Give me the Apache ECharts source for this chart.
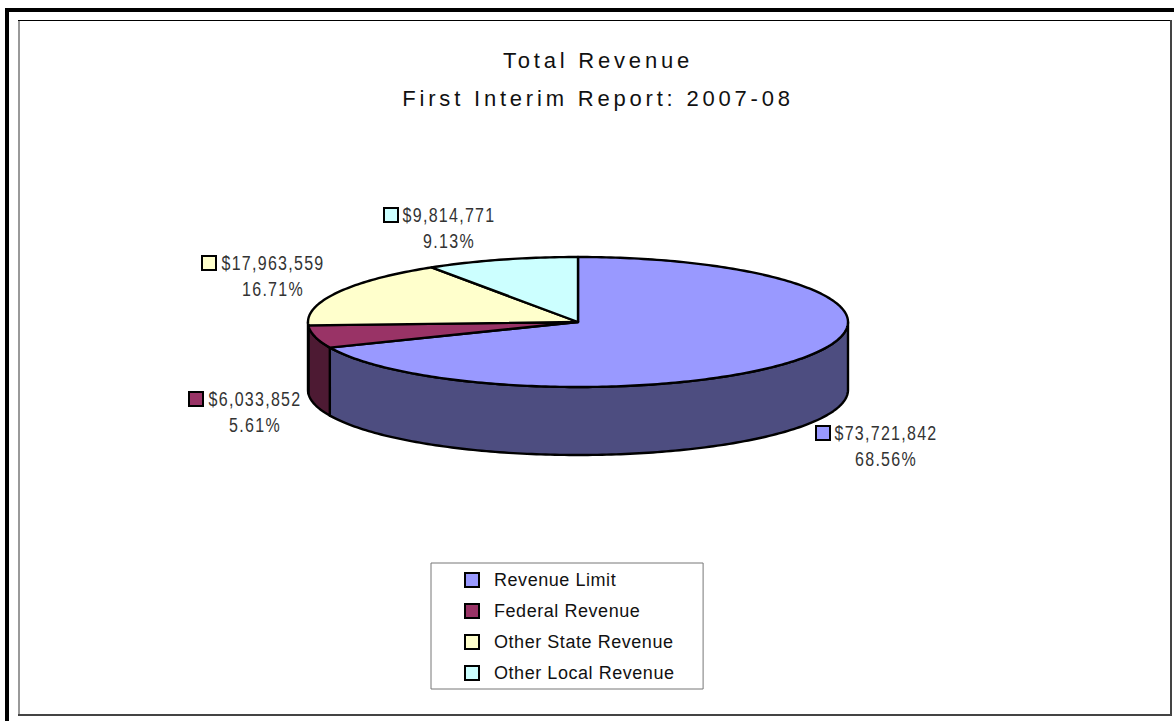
<!DOCTYPE html>
<html>
<head>
<meta charset="utf-8">
<title>Total Revenue</title>
<script src="https://cdn.jsdelivr.net/npm/echarts@6/dist/echarts.min.js"></script>
<style>
  html, body { margin: 0; padding: 0; background: #fff; }
  #main { width: 1174px; height: 721px; }
  /* echarts has no letter spacing option, the svg text takes it from css */
  #main text[style*="22px"] { letter-spacing: 3.8px; }
  #main text[style*="18px"] { letter-spacing: 0.55px; }
  #main text[style*="20px"] { letter-spacing: 1.6px; }
</style>
</head>
<body>
<div id="main"></div>
<script>
const categories = ['Revenue Limit', 'Federal Revenue', 'Other State Revenue', 'Other Local Revenue'];
const revenue = [73721842, 6033852, 17963559, 9814771];
const topColors = ['#9999FF', '#993366', '#FFFFCC', '#CCFFFF'];
const wallColors = ['#4D4D80', '#4D1A33', '#808066', '#668080'];

// flattened pie geometry, in pixels
const pie = { cx: 578, cy: 322, rx: 270, ry: 65, depth: 68 };
// swatch left, text centre and first line centre of each data label
const labelSpots = [
  [815, 886, 433],
  [188, 255, 399],
  [201, 273, 263],
  [383, 449, 215]
];

const total = revenue.reduce((a, b) => a + b, 0);

function rimPoint(fraction, drop) {
  const a = fraction * 2 * Math.PI;
  return [pie.cx + pie.rx * Math.sin(a), pie.cy - pie.ry * Math.cos(a) + drop];
}

function arc(from, to, drop) {
  const steps = Math.max(2, Math.ceil((to - from) * 360));
  const pts = [];
  for (let i = 0; i <= steps; i++) {
    pts.push(rimPoint(from + (to - from) * i / steps, drop));
  }
  return pts;
}

function labelText(x, y, text) {
  // narrow look of the original labels, no narrow font is installed
  return {
    type: 'text',
    z2: 6,
    x: x,
    y: y,
    scaleX: 0.8,
    style: { x: 0, y: 0, text: text, fontFamily: '"Liberation Sans"', fontSize: 20, fill: '#333', align: 'center', verticalAlign: 'middle' }
  };
}

function renderSlice(index) {
  return function (params, api) {
    const value = api.value(0);
    const before = revenue.slice(0, index).reduce((a, b) => a + b, 0);
    const from = before / total;
    const to = (before + value) / total;
    const children = [];
    const line = { stroke: '#000', lineWidth: 2.4, lineJoin: 'round' };

    // only the front half of the rim has a visible wall
    const wallFrom = Math.max(from, 0.25);
    const wallTo = Math.min(to, 0.75);
    if (wallTo > wallFrom) {
      const upper = arc(wallFrom, wallTo, 0);
      const lower = arc(wallFrom, wallTo, pie.depth).reverse();
      children.push({
        type: 'polygon',
        shape: { points: upper.concat(lower) },
        style: Object.assign({ fill: wallColors[index] }, line)
      });
    }
    children.push({
      type: 'polygon',
      z2: 5,
      shape: { points: [[pie.cx, pie.cy]].concat(arc(from, to, 0)) },
      style: Object.assign({ fill: topColors[index] }, line)
    });

    const spot = labelSpots[index];
    children.push({
      type: 'rect',
      z2: 6,
      shape: { x: spot[0] + 1, y: spot[2] - 7, width: 14, height: 14 },
      style: { fill: topColors[index], stroke: '#000', lineWidth: 2 }
    });
    children.push(labelText(spot[1], spot[2], '$' + value.toLocaleString('en-US')));
    children.push(labelText(spot[1], spot[2] + 26, (value / total * 100).toFixed(2) + '%'));
    return { type: 'group', children: children };
  };
}

const chart = echarts.init(document.getElementById('main'), null, { renderer: 'svg' });

chart.setOption({
  animation: false,
  backgroundColor: '#fff',
  title: {
    text: 'Total Revenue\nFirst Interim Report: 2007-08',
    left: 593,
    top: 36,
    textAlign: 'center',
    textStyle: { fontFamily: '"Liberation Sans"', fontSize: 22, fontWeight: 'normal', color: '#111', lineHeight: 38 }
  },
  legend: {
    orient: 'vertical',
    left: 431,
    top: 563,
    padding: [8, 39, 7, 33],
    itemGap: 13,
    itemWidth: 14,
    itemHeight: 14,
    borderColor: '#777',
    borderWidth: 1,
    icon: 'rect',
    textStyle: { fontFamily: '"Liberation Sans"', fontSize: 18, color: '#111', padding: [0, 0, 0, 10] },
    data: categories.map((name, i) => ({
      name: name,
      itemStyle: { color: topColors[i], borderColor: '#000', borderWidth: 2 }
    }))
  },
  graphic: [
    { type: 'rect', silent: true, shape: { x: 5, y: 8, width: 1169, height: 4 }, style: { fill: '#000' } },
    { type: 'rect', silent: true, shape: { x: 5, y: 8, width: 4, height: 713 }, style: { fill: '#000' } },
    { type: 'rect', silent: true, shape: { x: 18, y: 20, width: 2, height: 695 }, style: { fill: '#999' } },
    { type: 'rect', silent: true, shape: { x: 18, y: 20, width: 1153, height: 1 }, style: { fill: '#000' } },
    { type: 'rect', silent: true, shape: { x: 1170, y: 20, width: 2, height: 696 }, style: { fill: '#444' } },
    { type: 'rect', silent: true, shape: { x: 18, y: 714, width: 1154, height: 2 }, style: { fill: '#444' } }
  ],
  series: categories.map((name, i) => ({
    name: name,
    type: 'custom',
    coordinateSystem: 'none',
    itemStyle: { color: topColors[i] },
    renderItem: renderSlice(i),
    data: [[revenue[i]]]
  }))
});
</script>
</body>
</html>
